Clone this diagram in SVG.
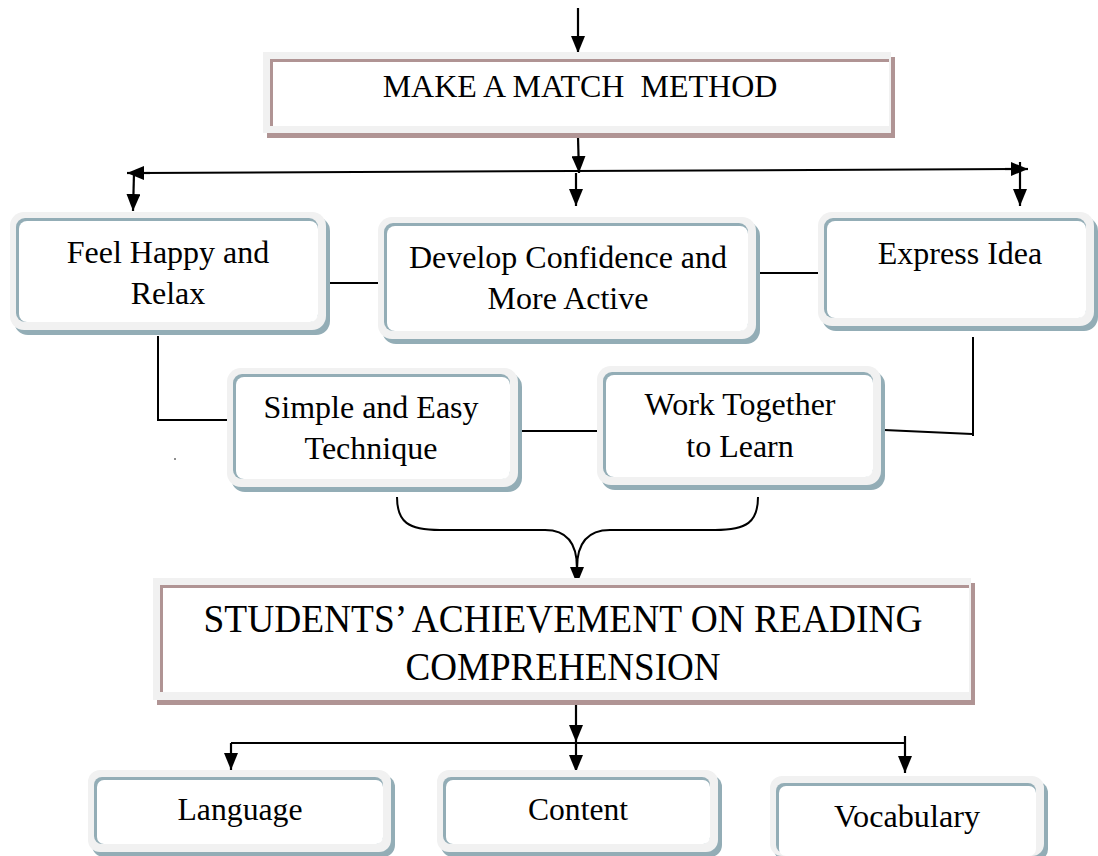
<svg xmlns="http://www.w3.org/2000/svg" width="1098" height="856" viewBox="0 0 1098 856">
<defs>
<style>
.sh{fill:#93adb6}
.fr{fill:#f1f1f1}
.ac{fill:#93adb6}
.in{fill:#ffffff}
.msh{fill:#b09494}
.mac{fill:#b09494}
.t{font-family:"Liberation Serif","Times New Roman",serif;font-size:32px;fill:#000;text-anchor:middle}
.big{font-size:40px}
.ln{stroke:#000;stroke-width:2;fill:none}
.ar{stroke:#000;stroke-width:2.2;fill:none;marker-end:url(#ah)}
</style>
<marker id="ah" markerUnits="userSpaceOnUse" markerWidth="17" markerHeight="14" viewBox="0 0 17 14" refX="17" refY="7" orient="auto">
<path d="M0,0 L17,7 L0,14 Z" fill="#000"/>
</marker>
</defs>
<rect width="1098" height="856" fill="#fff"/>

<g id="connectors">
<line class="ar" x1="578" y1="8" x2="578" y2="53"/>
<line class="ar" x1="578" y1="137" x2="579" y2="173"/>
<line class="ln" x1="140" y1="173" x2="1015" y2="169"/>
<line class="ar" x1="150" y1="173" x2="127" y2="173"/>
<line class="ar" x1="1005" y1="169" x2="1028" y2="169"/>
<line class="ar" x1="134" y1="173" x2="133" y2="211"/>
<line class="ar" x1="576" y1="173" x2="576" y2="206"/>
<line class="ar" x1="1020" y1="162" x2="1020" y2="206"/>
<line class="ln" x1="330" y1="283" x2="384" y2="283"/>
<line class="ln" x1="760" y1="273" x2="823" y2="273"/>
<polyline class="ln" points="158,336 158,420 232,420"/>
<line class="ln" x1="521" y1="431" x2="598" y2="431"/>
<line class="ln" x1="884" y1="430" x2="972" y2="434"/>
<line class="ln" x1="973" y1="337" x2="973" y2="436"/>
<path class="ln" d="M397,497 C397,522 408,530 440,530 L545,530 C568,530 577,545 577,568"/>
<path class="ln" d="M758,497 C758,522 747,530 715,530 L610,530 C586,530 577,545 577,568"/>
<line class="ar" x1="577" y1="560" x2="577" y2="584"/>
<line class="ar" x1="576" y1="705" x2="576" y2="742"/>
<line class="ln" x1="231" y1="743" x2="906" y2="743"/>
<line class="ar" x1="231" y1="743" x2="231" y2="770"/>
<line class="ar" x1="576" y1="742" x2="576" y2="772"/>
<line class="ar" x1="905" y1="736" x2="905" y2="773"/>
<circle cx="175" cy="459" r="0.8" fill="#000"/>
</g>

<g id="make-a-match">
<rect class="msh" x="267" y="57" width="628" height="81"/>
<rect class="fr" x="263" y="52" width="628" height="81"/>
<rect class="mac" x="270" y="59" width="619" height="67"/>
<rect class="in" x="273" y="62" width="616" height="64"/>
<text class="t" x="580" y="97" xml:space="preserve">MAKE A MATCH  METHOD</text>
</g>

<g id="feel-happy">
<rect class="sh" x="14" y="217" width="316" height="118" rx="14"/>
<rect class="fr" x="10" y="212" width="316" height="118" rx="14"/>
<rect class="ac" x="16" y="218" width="302" height="104" rx="9"/>
<rect class="in" x="19" y="221" width="299" height="101" rx="8"/>
<text class="t" x="168" y="263">Feel Happy and</text>
<text class="t" x="168" y="304">Relax</text>
</g>

<g id="develop-confidence">
<rect class="sh" x="382" y="222" width="378" height="122" rx="14"/>
<rect class="fr" x="378" y="217" width="378" height="122" rx="14"/>
<rect class="ac" x="384" y="223" width="364" height="108" rx="9"/>
<rect class="in" x="387" y="226" width="361" height="105" rx="8"/>
<text class="t" x="568" y="268">Develop Confidence and</text>
<text class="t" x="568" y="309">More Active</text>
</g>

<g id="express-idea">
<rect class="sh" x="822" y="217" width="276" height="114" rx="14"/>
<rect class="fr" x="818" y="212" width="276" height="114" rx="14"/>
<rect class="ac" x="824" y="218" width="262" height="100" rx="9"/>
<rect class="in" x="827" y="221" width="259" height="97" rx="8"/>
<text class="t" x="960" y="264">Express Idea</text>
</g>

<g id="simple-easy">
<rect class="sh" x="231" y="373" width="291" height="119" rx="14"/>
<rect class="fr" x="227" y="368" width="291" height="119" rx="14"/>
<rect class="ac" x="233" y="374" width="277" height="105" rx="9"/>
<rect class="in" x="236" y="377" width="274" height="102" rx="8"/>
<text class="t" x="371" y="418">Simple and Easy</text>
<text class="t" x="371" y="459">Technique</text>
</g>

<g id="work-together">
<rect class="sh" x="601" y="371" width="284" height="119" rx="14"/>
<rect class="fr" x="597" y="366" width="284" height="119" rx="14"/>
<rect class="ac" x="603" y="372" width="270" height="105" rx="9"/>
<rect class="in" x="606" y="375" width="267" height="102" rx="8"/>
<text class="t" x="740" y="415">Work Together</text>
<text class="t" x="740" y="457">to Learn</text>
</g>

<g id="students-achievement">
<rect class="msh" x="157" y="583" width="818" height="122"/>
<rect class="fr" x="153" y="578" width="818" height="122"/>
<rect class="mac" x="160" y="585" width="809" height="107"/>
<rect class="in" x="163" y="588" width="806" height="104"/>
<text class="t big" x="563" y="632" textLength="719" lengthAdjust="spacingAndGlyphs">STUDENTS’ ACHIEVEMENT ON READING</text>
<text class="t big" x="563" y="680" textLength="315" lengthAdjust="spacingAndGlyphs">COMPREHENSION</text>
</g>

<g id="language">
<rect class="sh" x="92" y="775" width="303" height="82" rx="12"/>
<rect class="fr" x="88" y="770" width="303" height="82" rx="12"/>
<rect class="ac" x="94" y="777" width="289" height="67" rx="8"/>
<rect class="in" x="97" y="780" width="286" height="64" rx="7"/>
<text class="t" x="240" y="820" font-size="34" textLength="125" lengthAdjust="spacingAndGlyphs">Language</text>
</g>

<g id="content">
<rect class="sh" x="441" y="775" width="281" height="82" rx="12"/>
<rect class="fr" x="437" y="770" width="281" height="82" rx="12"/>
<rect class="ac" x="443" y="777" width="267" height="67" rx="8"/>
<rect class="in" x="446" y="780" width="264" height="64" rx="7"/>
<text class="t" x="578" y="820" font-size="34" textLength="100" lengthAdjust="spacingAndGlyphs">Content</text>
</g>

<g id="vocabulary">
<rect class="sh" x="774" y="781" width="274" height="80" rx="12"/>
<rect class="fr" x="770" y="776" width="274" height="80" rx="12"/>
<rect class="ac" x="776" y="783" width="260" height="70" rx="8"/>
<rect class="in" x="779" y="786" width="257" height="70" rx="7"/>
<text class="t" x="907" y="827" font-size="34" textLength="146" lengthAdjust="spacingAndGlyphs">Vocabulary</text>
</g>
</svg>
